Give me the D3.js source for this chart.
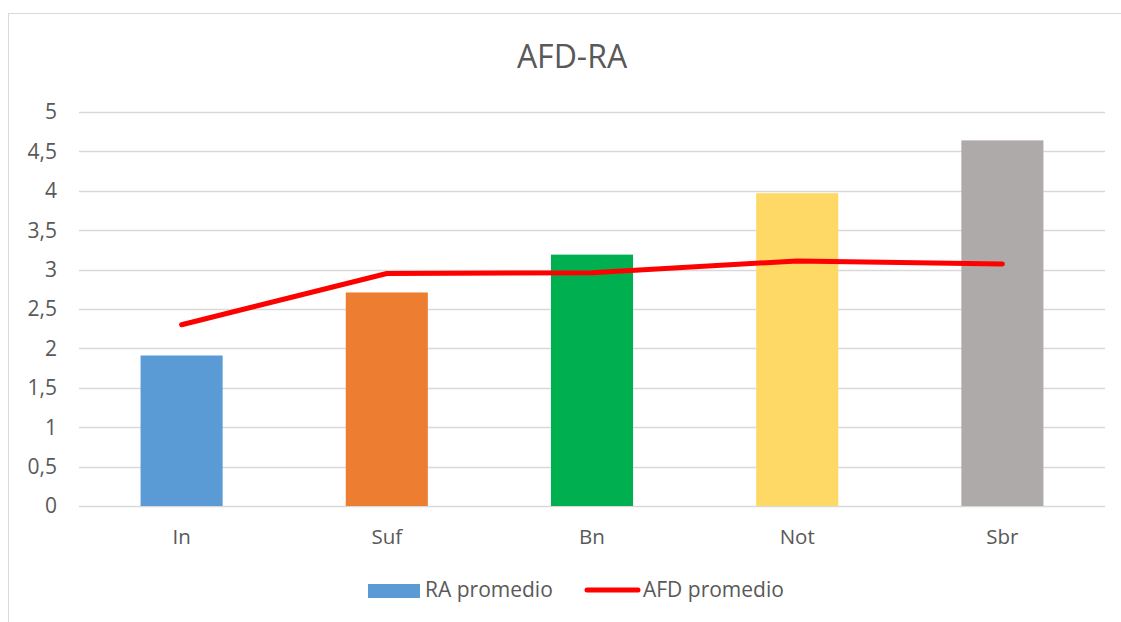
<!DOCTYPE html>
<html>
<head>
<meta charset="utf-8">
<script src="https://cdn.jsdelivr.net/npm/d3@7"></script>
<style>
  body { margin: 0; background: #fff; }
  text { font-family: "Open Sans", "Noto Sans", sans-serif; fill: #595959; }
</style>
</head>
<body>
<svg id="chart" width="1121" height="622"></svg>
<script>
var categories = ["In", "Suf", "Bn", "Not", "Sbr"];
var raValues = [1.91, 2.71, 3.19, 3.97, 4.64];
var afdValues = [2.30, 2.95, 2.96, 3.11, 3.07];
var barColors = ["#5B9BD5", "#ED7D31", "#00B050", "#FFD966", "#AEAAAA"];
var yTicks = [0, 0.5, 1, 1.5, 2, 2.5, 3, 3.5, 4, 4.5, 5];

var svg = d3.select("#chart");

// chart frame
svg.append("rect")
  .attr("x", 8.5).attr("y", 13.5)
  .attr("width", 1300).attr("height", 800)
  .attr("fill", "none").attr("stroke", "#D9D9D9");

var margin = {top: 112, right: 16, bottom: 116, left: 79},
    width = 1121 - margin.left - margin.right,
    height = 622 - margin.top - margin.bottom;

var x = d3.scaleBand()
  .domain(categories)
  .range([margin.left, margin.left + width])
  .paddingInner(0.6)
  .paddingOuter(0.3);

var y = d3.scaleLinear()
  .domain([0, 5])
  .range([margin.top + height, margin.top]);

// gridlines
svg.append("g")
  .selectAll("line")
  .data(yTicks)
  .enter().append("line")
  .attr("x1", margin.left).attr("x2", margin.left + width)
  .attr("y1", d => Math.round(y(d)) + 0.5)
  .attr("y2", d => Math.round(y(d)) + 0.5)
  .attr("stroke", "#D9D9D9")
  .attr("stroke-width", 1.3);

// y labels
var fmt = d => String(d).replace(".", ",");
svg.append("g")
  .selectAll("text")
  .data(yTicks)
  .enter().append("text")
  .attr("x", 57)
  .attr("y", d => y(d))
  .attr("dy", "0.35em")
  .attr("text-anchor", "end")
  .style("font-size", "21px")
  .text(fmt);

// bars
svg.append("g")
  .selectAll("rect")
  .data(raValues)
  .enter().append("rect")
  .attr("x", (d, i) => x(categories[i]))
  .attr("width", x.bandwidth())
  .attr("y", d => y(d))
  .attr("height", d => y(0) - y(d))
  .attr("fill", (d, i) => barColors[i]);

// x labels
svg.append("g")
  .selectAll("text")
  .data(categories)
  .enter().append("text")
  .attr("x", d => x(d) + x.bandwidth() / 2)
  .attr("y", 544)
  .attr("text-anchor", "middle")
  .style("font-size", "20.5px")
  .text(d => d);

// line
var line = d3.line()
  .x((d, i) => x(categories[i]) + x.bandwidth() / 2)
  .y(d => y(d));

svg.append("path")
  .datum(afdValues)
  .attr("d", line)
  .attr("fill", "none")
  .attr("stroke", "#FF0000")
  .attr("stroke-width", 5)
  .attr("stroke-linecap", "round")
  .attr("stroke-linejoin", "round");

// title
svg.append("text")
  .attr("x", 572).attr("y", 68)
  .attr("text-anchor", "middle")
  .style("font-size", "32px")
  .text("AFD-RA");

// legend
var legend = svg.append("g");
legend.append("rect")
  .attr("x", 368).attr("y", 584)
  .attr("width", 52).attr("height", 14)
  .attr("fill", barColors[0]);
legend.append("text")
  .attr("x", 425).attr("y", 597)
  .style("font-size", "21px")
  .text("RA promedio");
legend.append("line")
  .attr("x1", 587).attr("x2", 638)
  .attr("y1", 590).attr("y2", 590)
  .attr("stroke", "#FF0000")
  .attr("stroke-width", 5)
  .attr("stroke-linecap", "round");
legend.append("text")
  .attr("x", 643).attr("y", 597)
  .style("font-size", "21px")
  .text("AFD promedio");
</script>
</body>
</html>
